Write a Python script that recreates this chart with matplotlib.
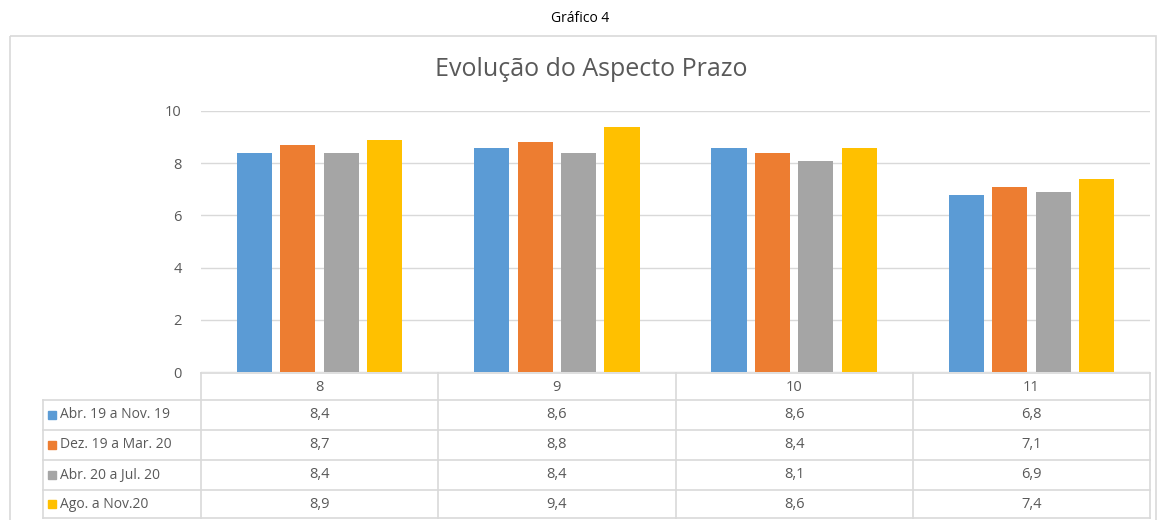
import matplotlib
matplotlib.use("Agg")
import matplotlib.pyplot as plt
from matplotlib.patches import Rectangle

categories = ["8", "9", "10", "11"]
series_names = ["Abr. 19 a Nov. 19", "Dez. 19 a Mar. 20", "Abr. 20 a Jul. 20", "Ago. a Nov.20"]
abr19_nov19 = [8.4, 8.6, 8.6, 6.8]
dez19_mar20 = [8.7, 8.8, 8.4, 7.1]
abr20_jul20 = [8.4, 8.4, 8.1, 6.9]
ago_nov20 = [8.9, 9.4, 8.6, 7.4]
series_values = [abr19_nov19, dez19_mar20, abr20_jul20, ago_nov20]
colors = ["#5B9BD5", "#ED7D31", "#A5A5A5", "#FFC000"]
yticks = [0, 2, 4, 6, 8, 10]

W, H = 1161, 520
fig = plt.figure(figsize=(W / 100, H / 100), dpi=100)
plt.rcParams['font.family'] = ['Open Sans', 'DejaVu Sans']
txtc = "#595959"
gridc = "#D9D9D9"

# overlay axes in pixel coordinates
ov = fig.add_axes([0, 0, 1, 1])
ov.set_xlim(0, W)
ov.set_ylim(H, 0)
ov.axis("off")
ov.set_zorder(0)

ov.text(W / 2, 18, "Gráfico 4", ha="center", va="center", fontsize=10, color="black")
ov.add_patch(Rectangle((10, 36), 1146, 500, fill=False, edgecolor=gridc, lw=1.2))
ov.text(591, 70, "Evolução do Aspecto Prazo", ha="center", va="center", fontsize=18, color=txtc)

left, right, y0, y10 = 201, 1150, 372, 111
ax = fig.add_axes([left / W, (H - y0) / H, (right - left) / W, (y0 - y10) / H])
ax.set_zorder(1)
ax.patch.set_alpha(0)
n = len(series_values)
bw = 0.148
step = 0.183
xs = list(range(len(categories)))
for i, (vals, c) in enumerate(zip(series_values, colors)):
    off = (i - (n - 1) / 2) * step
    ax.bar([x + off for x in xs], vals, width=bw, color=c, zorder=3)
ax.set_xlim(-0.5, len(categories) - 0.5)
ax.set_ylim(0, 10)
ax.set_yticks(yticks)
ax.set_yticklabels([str(t) for t in yticks], color=txtc, fontsize=10.5)
ax.set_xticks([])
ax.tick_params(axis="y", length=0, pad=14)
ax.grid(axis="y", color=gridc, lw=1, zorder=0)
for s in ax.spines.values():
    s.set_visible(False)

# data table
colw = (right - left) / len(categories)
col_edges = [left + k * colw for k in range(len(categories) + 1)]
hdr_top, hdr_bot = 373, 400
row_edges = [400, 430, 460, 490, 518]
lx = 43
ov.plot([left, right], [hdr_top, hdr_top], color=gridc, lw=1.2)
for xe in col_edges:
    ov.plot([xe, xe], [hdr_top, row_edges[-1]], color=gridc, lw=1.2)
for ye in row_edges:
    ov.plot([lx, right], [ye, ye], color=gridc, lw=1.2)
ov.plot([lx, lx], [row_edges[0], row_edges[-1]], color=gridc, lw=1.2)
for k, cat in enumerate(categories):
    ov.text((col_edges[k] + col_edges[k + 1]) / 2, (hdr_top + hdr_bot) / 2 + 1, cat,
            ha="center", va="center", fontsize=10.5, color=txtc)
for r, (name, vals, c) in enumerate(zip(series_names, series_values, colors)):
    yc = (row_edges[r] + row_edges[r + 1]) / 2
    ov.add_patch(Rectangle((48, yc - 4), 8, 8, color=c))
    ov.text(60, yc, name, ha="left", va="center", fontsize=10, color=txtc)
    for k, v in enumerate(vals):
        ov.text((col_edges[k] + col_edges[k + 1]) / 2, yc, f"{v:.1f}".replace(".", ","),
                ha="center", va="center", fontsize=10.5, color=txtc)

fig.savefig("out.png", dpi=100)
